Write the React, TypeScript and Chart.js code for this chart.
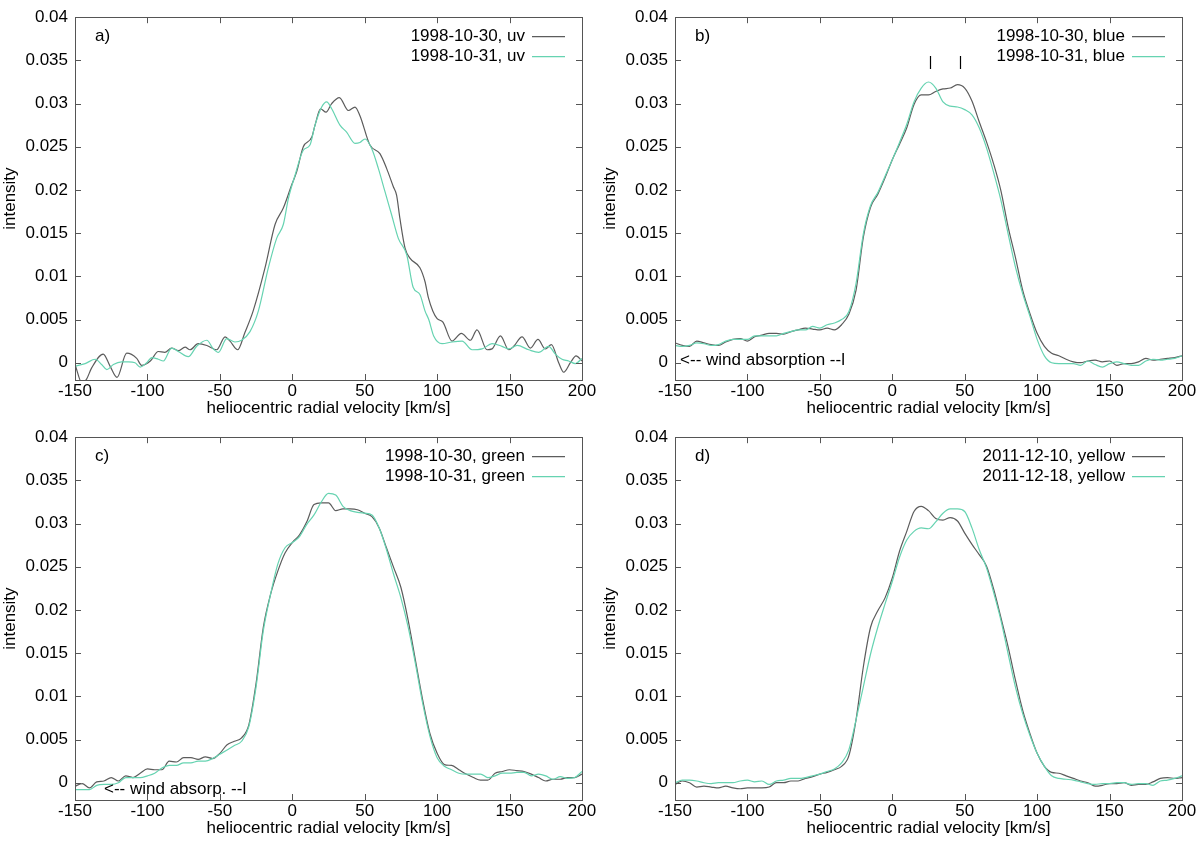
import React, { useEffect, useRef } from 'react';
import Chart from 'chart.js/auto';

// shared axes
const X_TICKS = [-150, -100, -50, 0, 50, 100, 150, 200];
const Y_TICKS = [0, 0.005, 0.01, 0.015, 0.02, 0.025, 0.03, 0.035, 0.04];

// panel a) uv - irregular sampling to keep the wiggles
const A_VEL_30 = [-150, -145, -142, -138.5, -130.5, -125.8, -121, -114.3, -107.4, -104, -98, -92.5, -88, -83.3, -78.7, -74, -70.6, -65, -59, -52.2, -46.4, -43, -37.7, -32.7, -27, -18.8, -11.9, -6.2, -0.4, 3, 7.6, 13.4, 15.7, 19.5, 23.3, 27.2, 32.5, 38.7, 43.3, 46.7, 53.6, 60.5, 65.1, 69.7, 72, 74.3, 77.8, 81.2, 88.1, 91.6, 94, 97, 100, 104, 110.3, 116.7, 123, 127.5, 134.5, 137.9, 143.7, 149.4, 152.9, 158.6, 164.4, 169.6, 174.7, 178.9, 183.9, 187.4, 192, 195.9, 200];
const A_INT_30 = [-0.0002, -0.0024, -0.0019, -0.0006, 0.001, -0.0004, -0.0017, 0.0011, 0.0005, -0.0003, 0.0002, 0.0013, 0.0012, 0.0017, 0.0014, 0.0018, 0.0015, 0.0022, 0.002, 0.0015, 0.003, 0.0025, 0.0015, 0.0035, 0.006, 0.011, 0.016, 0.0179, 0.0206, 0.0221, 0.025, 0.0261, 0.0275, 0.0294, 0.029, 0.03, 0.0307, 0.0292, 0.0296, 0.0286, 0.0252, 0.0242, 0.0225, 0.0204, 0.0194, 0.0167, 0.0133, 0.0121, 0.011, 0.0094, 0.0075, 0.006, 0.0051, 0.0047, 0.0025, 0.0034, 0.0026, 0.0038, 0.0015, 0.0016, 0.0031, 0.0015, 0.0019, 0.003, 0.0017, 0.0027, 0.0016, 0.0021, 0, -0.0011, 0, 0.0008, 0.0002];
const A_VEL_31 = [-150, -143, -136, -131.6, -128, -123.5, -117.8, -113, -108.6, -105, -100.5, -97, -92.5, -89, -83.3, -78.7, -71.8, -66, -59, -54.5, -51, -45.3, -39.6, -35, -29.2, -23.4, -16.5, -10.8, -6.2, -2.7, 1.9, 7.6, 12.2, 15.7, 20.3, 23.7, 27.2, 32.9, 37.5, 43.3, 46.7, 50.2, 54.8, 59.4, 64, 68.6, 73.2, 79, 83.5, 88.1, 91.6, 94.2, 97.6, 103.4, 110.3, 117.2, 124.1, 131, 137.9, 144.8, 149.4, 155.2, 163.2, 170.1, 177, 181.6, 186.2, 190.8, 195.4, 200];
const A_INT_31 = [-0.0004, -0.0001, 0.0004, -0.0002, -0.0008, -0.0002, 0.0001, 0.0001, 0, -0.0005, 0, 0.0006, 0.0004, 0.0002, 0.0017, 0.0013, 0.0007, 0.0019, 0.0026, 0.0016, 0.0012, 0.0028, 0.0024, 0.0026, 0.0036, 0.006, 0.011, 0.0144, 0.016, 0.019, 0.0217, 0.0246, 0.0252, 0.0275, 0.0296, 0.0302, 0.0294, 0.0275, 0.0267, 0.0254, 0.0255, 0.0259, 0.0248, 0.0225, 0.0198, 0.0171, 0.0144, 0.0125, 0.0087, 0.0079, 0.006, 0.005, 0.0031, 0.0022, 0.0024, 0.0025, 0.0015, 0.0016, 0.0022, 0.0019, 0.0016, 0.002, 0.0015, 0.0012, 0.0019, 0.001, 0.0004, 0.0002, -0.0001, 0.0005];

// panels b) c) d) - 5 km/s grid
const VEL = [-150, -145, -140, -135, -130, -125, -120, -115, -110, -105, -100, -95, -90, -85, -80, -75, -70, -65, -60, -55, -50, -45, -40, -35, -30, -25, -20, -15, -10, -5, 0, 5, 10, 15, 20, 25, 30, 35, 40, 45, 50, 55, 60, 65, 70, 75, 80, 85, 90, 95, 100, 105, 110, 115, 120, 125, 130, 135, 140, 145, 150, 155, 160, 165, 170, 175, 180, 185, 190, 195, 200];

const B_INT_30 = [0.0023, 0.002, 0.0019, 0.0025, 0.0023, 0.0021, 0.002, 0.0024, 0.0027, 0.0028, 0.0025, 0.003, 0.0032, 0.0034, 0.0034, 0.0033, 0.0036, 0.0038, 0.004, 0.0039, 0.0038, 0.004, 0.0038, 0.0044, 0.0056, 0.0084, 0.0145, 0.018, 0.0195, 0.0214, 0.0235, 0.0253, 0.0272, 0.0299, 0.031, 0.031, 0.0314, 0.0317, 0.0318, 0.0322, 0.0318, 0.0303, 0.0279, 0.0256, 0.023, 0.0199, 0.0157, 0.0122, 0.0084, 0.0057, 0.0034, 0.0019, 0.0011, 0.0008, 0.0004, 0.0001, 0, 0.0002, 0.0003, 0.0001, 0.0002, -0.0003, -0.0001, -0.0001, 0.0001, 0.0005, 0.0003, 0.0004, 0.0005, 0.0006, 0.0008];
const B_INT_31 = [0.002, 0.0019, 0.002, 0.0023, 0.0022, 0.002, 0.0021, 0.0025, 0.0027, 0.0027, 0.0027, 0.0031, 0.0031, 0.0031, 0.0031, 0.0034, 0.0036, 0.0038, 0.0038, 0.0042, 0.004, 0.0044, 0.0046, 0.005, 0.0059, 0.0092, 0.0149, 0.0182, 0.0197, 0.0216, 0.0235, 0.0255, 0.0276, 0.0302, 0.0318, 0.0325, 0.0318, 0.0302, 0.0297, 0.0296, 0.0293, 0.0287, 0.0272, 0.0249, 0.022, 0.0188, 0.0149, 0.0111, 0.008, 0.0054, 0.0027, 0.0008, 0, -0.0001, -0.0001, -0.0001, -0.0003, 0.0002, -0.0002, -0.0005, -0.0001, 0.0001, -0.0001, -0.0003, -0.0003, 0.0002, 0.0004, 0.0003, 0.0004, 0.0005, 0.0008];

const C_INT_30 = [-0.0004, -0.0001, -0.0006, 0.0001, 0.0002, 0.0006, 0.0002, 0.0008, 0.0006, 0.0011, 0.0016, 0.0015, 0.0015, 0.0025, 0.0024, 0.0029, 0.0029, 0.0027, 0.003, 0.0028, 0.0034, 0.0044, 0.0048, 0.0052, 0.0067, 0.0115, 0.018, 0.0218, 0.0245, 0.0266, 0.0278, 0.0287, 0.0302, 0.0322, 0.0324, 0.0324, 0.0315, 0.0317, 0.0317, 0.0316, 0.0312, 0.0308, 0.0295, 0.0272, 0.0249, 0.0226, 0.0188, 0.0142, 0.0096, 0.0057, 0.0034, 0.0021, 0.002, 0.0015, 0.001, 0.0006, 0.0003, 0.0003, 0.0011, 0.0013, 0.0015, 0.0014, 0.0013, 0.001, 0.0006, 0.0002, 0.0004, 0.0004, 0.0006, 0.0006, 0.001];
const C_INT_31 = [-0.0008, -0.0008, -0.0008, -0.0003, -0.0002, -0.0002, 0, 0.0006, 0.0006, 0.0006, 0.0008, 0.0011, 0.0017, 0.002, 0.002, 0.0023, 0.0023, 0.0025, 0.0025, 0.0028, 0.0033, 0.0038, 0.0043, 0.0048, 0.0065, 0.0111, 0.0176, 0.0218, 0.0253, 0.0272, 0.0278, 0.0285, 0.0299, 0.031, 0.0325, 0.0335, 0.0333, 0.032, 0.0315, 0.0313, 0.0312, 0.031, 0.0295, 0.027, 0.0241, 0.0214, 0.018, 0.0138, 0.0092, 0.0054, 0.0029, 0.0019, 0.0015, 0.0011, 0.001, 0.001, 0.001, 0.0006, 0.0008, 0.0011, 0.0011, 0.0012, 0.0012, 0.0008, 0.001, 0.0008, 0.0004, 0.0007, 0.0005, 0.0006, 0.0013];

const D_INT_10 = [-0.0002, 0.0002, 0, -0.0005, -0.0004, -0.0005, -0.0006, -0.0004, -0.0006, -0.0007, -0.0006, -0.0006, -0.0006, -0.0005, 0, 0, 0.0002, 0.0002, 0.0005, 0.0007, 0.001, 0.0012, 0.0015, 0.0019, 0.0031, 0.0073, 0.0134, 0.018, 0.0199, 0.0214, 0.0237, 0.0268, 0.0291, 0.0314, 0.032, 0.0315, 0.0306, 0.0304, 0.0307, 0.0303, 0.0289, 0.0276, 0.0264, 0.0251, 0.0224, 0.0191, 0.0157, 0.0119, 0.0084, 0.0057, 0.0034, 0.0019, 0.0012, 0.0011, 0.0008, 0.0005, 0.0002, 0, -0.0004, -0.0003, -0.0001, -0.0001, 0, -0.0003, -0.0002, -0.0002, 0.0001, 0.0005, 0.0006, 0.0005, 0.0006];
const D_INT_18 = [0, 0.0003, 0.0003, 0.0002, 0, -0.0001, 0, 0, 0, 0.0002, 0.0003, 0.0001, 0.0002, -0.0002, 0.0002, 0.0003, 0.0005, 0.0005, 0.0006, 0.0008, 0.001, 0.0013, 0.0016, 0.0023, 0.0038, 0.0073, 0.0111, 0.0149, 0.018, 0.0207, 0.0233, 0.0261, 0.0281, 0.0291, 0.0295, 0.0294, 0.0302, 0.0312, 0.0317, 0.0317, 0.0314, 0.0295, 0.027, 0.0249, 0.022, 0.0188, 0.0149, 0.0111, 0.008, 0.0055, 0.0034, 0.0019, 0.0008, 0.0005, 0.0004, 0.0003, 0.0001, -0.0001, -0.0002, -0.0001, -0.0001, 0, 0, -0.0002, -0.0001, -0.0001, -0.0003, 0.0002, 0.0003, 0.0005, 0.0008];

// tick marks above the two blue peaks
const B_MARKS = [26, 47];
const B_MARK_RANGE = [0.034, 0.0355];

const GRAY = '#5c5c5c';
const TEAL = '#66d3b1';
const FONT = '"Liberation Sans", Arial, Helvetica, sans-serif';

type Series = { label: string; vel: number[]; int: number[]; color: string };
type Note = { text: string; x: number; y: number };
type PanelProps = { tag: string; series: Series[]; note?: Note; marks?: number[] };

const fmtY = (v: number) => parseFloat(v.toFixed(3)).toString();

const framePlugin = {
  id: 'frame',
  afterDatasetsDraw(chart: any, _args: any, opts: any) {
    const { ctx, chartArea: a, scales } = chart;
    const xs = scales.x;
    const ys = scales.y;
    ctx.save();
    ctx.strokeStyle = '#555';
    ctx.lineWidth = 1;
    ctx.beginPath();
    // inward ticks on all four sides
    X_TICKS.forEach(v => {
      const px = Math.round(xs.getPixelForValue(v)) + 0.5;
      ctx.moveTo(px, a.bottom);
      ctx.lineTo(px, a.bottom - 6);
      ctx.moveTo(px, a.top);
      ctx.lineTo(px, a.top + 6);
    });
    Y_TICKS.forEach(v => {
      const py = Math.round(ys.getPixelForValue(v)) + 0.5;
      ctx.moveTo(a.left, py);
      ctx.lineTo(a.left + 6, py);
      ctx.moveTo(a.right, py);
      ctx.lineTo(a.right - 6, py);
    });
    ctx.stroke();
    ctx.strokeRect(Math.round(a.left) + 0.5, Math.round(a.top) + 0.5, Math.round(a.right - a.left), Math.round(a.bottom - a.top));

    ctx.fillStyle = '#000';
    ctx.font = `17px ${FONT}`;
    ctx.textBaseline = 'middle';

    // panel tag
    ctx.textAlign = 'left';
    ctx.fillText(opts.tag, a.left + 20, a.top + 19);

    // legend, text right of sample line
    chart.data.datasets.forEach((ds: any, i: number) => {
      const y = a.top + 19 + i * 20;
      ctx.textAlign = 'right';
      ctx.fillStyle = '#000';
      ctx.fillText(ds.label, a.right - 57, y);
      ctx.strokeStyle = ds.borderColor;
      ctx.lineWidth = 1.2;
      ctx.beginPath();
      ctx.moveTo(a.right - 50, y + 0.5);
      ctx.lineTo(a.right - 17, y + 0.5);
      ctx.stroke();
    });

    // annotation placed in data coordinates
    if (opts.note) {
      ctx.textAlign = 'left';
      ctx.fillStyle = '#000';
      ctx.fillText(opts.note.text, xs.getPixelForValue(opts.note.x), ys.getPixelForValue(opts.note.y));
    }
    if (opts.marks) {
      ctx.strokeStyle = '#000';
      ctx.lineWidth = 1.2;
      ctx.beginPath();
      opts.marks.forEach((m: number) => {
        const px = Math.round(xs.getPixelForValue(m)) + 0.5;
        ctx.moveTo(px, ys.getPixelForValue(B_MARK_RANGE[0]));
        ctx.lineTo(px, ys.getPixelForValue(B_MARK_RANGE[1]));
      });
      ctx.stroke();
    }
    ctx.restore();
  },
};

const Panel: React.FC<PanelProps> = ({ tag, series, note, marks }) => {
  const canvasRef = useRef<HTMLCanvasElement>(null);
  const chartRef = useRef<Chart | null>(null);

  useEffect(() => {
    if (!canvasRef.current) return;
    if (chartRef.current) chartRef.current.destroy();

    const font = { family: FONT, size: 17 };

    chartRef.current = new Chart(canvasRef.current, {
      type: 'line',
      data: {
        datasets: series.map((s, i) => ({
          label: s.label,
          data: s.vel.map((v, j) => ({ x: v, y: s.int[j] })),
          borderColor: s.color,
          borderWidth: 1.2,
          pointRadius: 0,
          cubicInterpolationMode: 'monotone' as const,
          fill: false,
          order: series.length - i, // later series on top, like gnuplot
        })),
      },
      options: {
        responsive: false,
        animation: false,
        layout: { padding: { top: 15, right: 18, left: 0, bottom: 0 } },
        plugins: {
          legend: { display: false },
          tooltip: { enabled: false },
          frame: { tag, note, marks },
        } as any,
        scales: {
          x: {
            type: 'linear',
            min: -150,
            max: 200,
            afterBuildTicks: (s: any) => { s.ticks = X_TICKS.map(v => ({ value: v })); },
            afterFit: (s: any) => { s.height = 40; },
            ticks: { font, color: '#000', padding: 1, maxRotation: 0, autoSkip: false, callback: (v: any) => String(v) },
            grid: { display: false, drawTicks: false },
            border: { display: false },
            title: { display: true, text: 'heliocentric radial velocity [km/s]', font, color: '#000', padding: { top: 0, bottom: 1 } },
          },
          y: {
            type: 'linear',
            min: -0.002,
            max: 0.04,
            afterBuildTicks: (s: any) => { s.ticks = Y_TICKS.map(v => ({ value: v })); },
            afterFit: (s: any) => { s.width = 75; },
            ticks: { font, color: '#000', padding: 7, autoSkip: false, callback: (v: any) => fmtY(Number(v)) },
            grid: { display: false, drawTicks: false },
            border: { display: false },
            title: { display: true, text: 'intensity', font, color: '#000', padding: { top: 0, bottom: 0 } },
          },
        },
      },
      plugins: [framePlugin],
    });

    return () => {
      if (chartRef.current) {
        chartRef.current.destroy();
        chartRef.current = null;
      }
    };
  }, [tag, series, note, marks]);

  return <canvas ref={canvasRef} width={600} height={420} style={{ display: 'block' }} />;
};

const PANEL_A: Series[] = [
  { label: '1998-10-30, uv', vel: A_VEL_30, int: A_INT_30, color: GRAY },
  { label: '1998-10-31, uv', vel: A_VEL_31, int: A_INT_31, color: TEAL },
];
const PANEL_B: Series[] = [
  { label: '1998-10-30, blue', vel: VEL, int: B_INT_30, color: GRAY },
  { label: '1998-10-31, blue', vel: VEL, int: B_INT_31, color: TEAL },
];
const PANEL_C: Series[] = [
  { label: '1998-10-30, green', vel: VEL, int: C_INT_30, color: GRAY },
  { label: '1998-10-31, green', vel: VEL, int: C_INT_31, color: TEAL },
];
const PANEL_D: Series[] = [
  { label: '2011-12-10, yellow', vel: VEL, int: D_INT_10, color: GRAY },
  { label: '2011-12-18, yellow', vel: VEL, int: D_INT_18, color: TEAL },
];
const NOTE_B: Note = { text: '<-- wind absorption --l', x: -146.5, y: 0.0003 };
const NOTE_C: Note = { text: '<-- wind absorp. --l', x: -130, y: -0.0008 };

export default function App() {
  useEffect(() => {
    document.body.style.margin = '0';
    document.body.style.background = '#fff';
  }, []);
  return (
    <div style={{ position: 'absolute', left: 0, top: 0, width: 1200, height: 841, background: '#fff', display: 'grid', gridTemplateColumns: '600px 600px', gridTemplateRows: '420px 421px' }}>
      <Panel tag="a)" series={PANEL_A} />
      <Panel tag="b)" series={PANEL_B} note={NOTE_B} marks={B_MARKS} />
      <Panel tag="c)" series={PANEL_C} note={NOTE_C} />
      <Panel tag="d)" series={PANEL_D} />
    </div>
  );
}
